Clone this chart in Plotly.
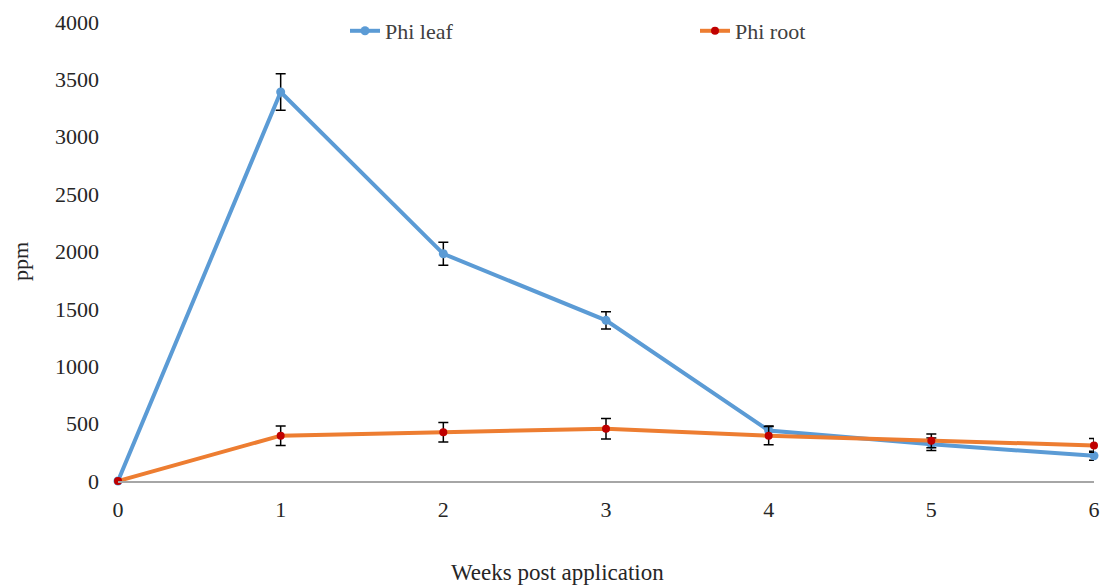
import plotly.graph_objects as go

weeks = [0, 1, 2, 3, 4, 5, 6]
leaf_ppm = [0, 3390, 1980, 1400, 440, 320, 220]
leaf_err = [0, 160, 100, 75, 40, 55, 40]
root_ppm = [0, 395, 425, 455, 395, 350, 310]
root_err = [0, 85, 85, 90, 80, 60, 60]
y_ticks = [0, 500, 1000, 1500, 2000, 2500, 3000, 3500, 4000]

serif = "Liberation Serif, Times New Roman, serif"
text_col = "#262626"
legend_col = "#404040"

fig = go.Figure()
fig.add_trace(go.Scatter(
    x=weeks, y=leaf_ppm, name="Phi leaf", mode="lines+markers",
    line=dict(color="#5B9BD5", width=4),
    marker=dict(color="#5B9BD5", size=9),
    error_y=dict(type="data", array=leaf_err, color="#000000", thickness=1.5, width=5),
    cliponaxis=False, legend="legend",
))
fig.add_trace(go.Scatter(
    x=weeks, y=root_ppm, name="Phi root", mode="lines+markers",
    line=dict(color="#ED7D31", width=4),
    marker=dict(color="#C00000", size=8),
    error_y=dict(type="data", array=root_err, color="#000000", thickness=1.5, width=5),
    cliponaxis=False, legend="legend2",
))

legend_common = dict(
    orientation="h", xanchor="left", yanchor="middle",
    font=dict(family=serif, size=22, color=legend_col),
    bgcolor="rgba(0,0,0,0)",
)

fig.update_layout(
    width=1104, height=586,
    margin=dict(l=118, r=10, t=22, b=105, autoexpand=False),
    paper_bgcolor="white", plot_bgcolor="white",
    font=dict(family=serif, size=22, color=text_col),
    showlegend=True,
    legend=dict(x=(345 - 118) / 976, y=(481 - 31) / 459, **legend_common),
    legend2=dict(x=(695 - 118) / 976, y=(481 - 31) / 459, **legend_common),
    xaxis=dict(
        range=[0, 6], tickvals=weeks, showgrid=False, zeroline=False,
        showline=True, linecolor="#A6A6A6", linewidth=1.5,
        ticks="", ticklabelstandoff=8,
        tickfont=dict(family=serif, size=22, color=text_col),
    ),
    yaxis=dict(
        range=[0, 4000], tickvals=y_ticks, showgrid=False, zeroline=False,
        showline=False, ticks="", ticklabelstandoff=18,
        tickfont=dict(family=serif, size=22, color=text_col),
    ),
    annotations=[
        dict(text="Weeks post application", xref="paper", yref="paper",
             x=(557 - 118) / 976, y=-(572 - 481) / 459, showarrow=False,
             xanchor="center", yanchor="middle",
             font=dict(family=serif, size=23, color=text_col)),
        dict(text="ppm", xref="paper", yref="paper",
             x=-(118 - 20) / 976, y=(481 - 262) / 459, showarrow=False,
             xanchor="center", yanchor="middle", textangle=-90,
             font=dict(family=serif, size=22, color=text_col)),
    ],
)

fig.write_html("out.html")
